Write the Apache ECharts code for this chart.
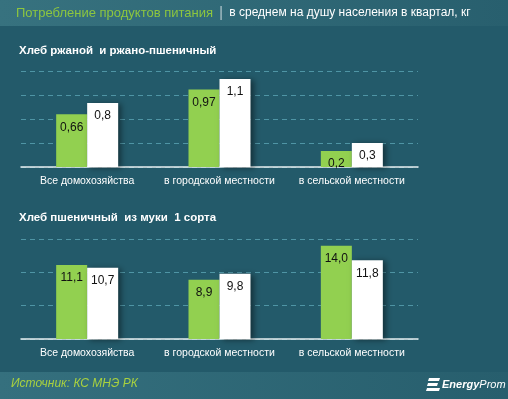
<!DOCTYPE html>
<html>
<head>
<meta charset="utf-8">
<script src="https://cdn.jsdelivr.net/npm/echarts@6/dist/echarts.min.js"></script>
<style>
  html, body { margin: 0; padding: 0; background: #235a6a; }
  #container { width: 508px; height: 399px; }
</style>
</head>
<body>
<div id="container"></div>
<script>
var categories = ['Все домохозяйства', 'в городской местности', 'в сельской местности'];
// Хлеб ржаной и ржано-пшеничный
var ryeGreen = [0.66, 0.97, 0.2];
var ryeWhite = [0.8, 1.1, 0.3];
// Хлеб пшеничный из муки 1 сорта
var wheatGreen = [11.1, 8.9, 14.0];
var wheatWhite = [10.7, 9.8, 11.8];

var font = 'Liberation Sans';
var green = '#92d050';

var dom = document.getElementById('container');
var myChart = echarts.init(dom, null, {renderer: 'canvas'});

function commaTop(p) { return String(p.value).replace('.', ','); }
function commaBottom(p) { return p.value.toFixed(1).replace('.', ','); }

function barSeries(data, color, xi, fmt, shadow) {
    return {
        type: 'bar',
        xAxisIndex: xi,
        yAxisIndex: xi,
        data: data,
        barWidth: 31,
        barGap: '0%',
        itemStyle: {
            color: color,
            shadowColor: shadow ? 'rgba(0,0,0,0.45)' : 'rgba(0,0,0,0)',
            shadowBlur: 6,
            shadowOffsetX: 3,
            shadowOffsetY: 1
        },
        label: {
            show: true,
            position: 'insideTop',
            distance: 7,
            color: '#111',
            fontFamily: font,
            fontSize: 12,
            formatter: fmt
        },
        silent: true
    };
}

function xAxisFor(gi) {
    return {
        type: 'category',
        gridIndex: gi,
        data: categories,
        axisTick: {show: false},
        axisLine: {lineStyle: {color: '#e8eef0', width: 1.5}},
        axisLabel: {color: '#fff', fontFamily: font, fontSize: 10.5, margin: 9, interval: 0}
    };
}

function yAxisFor(gi, max, interval) {
    return {
        type: 'value',
        gridIndex: gi,
        min: 0,
        max: max,
        interval: interval,
        axisLabel: {show: false},
        axisLine: {show: false},
        axisTick: {show: false},
        splitLine: {lineStyle: {color: '#4f95a5', type: [5, 4], width: 1}}
    };
}

var option = {
    backgroundColor: '#235a6a',
    animation: false,
    title: [{
        text: 'Хлеб ржаной  и ржано-пшеничный',
        left: 19, top: 45, padding: 0,
        textStyle: {color: '#fff', fontFamily: font, fontSize: 11.5, fontWeight: 'bold'}
    }, {
        text: 'Хлеб пшеничный  из муки  1 сорта',
        left: 19, top: 212, padding: 0,
        textStyle: {color: '#fff', fontFamily: font, fontSize: 11.5, fontWeight: 'bold'}
    }],
    grid: [
        {left: 21, width: 397, top: 71, height: 96},
        {left: 21, width: 397, top: 239, height: 100}
    ],
    xAxis: [xAxisFor(0), xAxisFor(1)],
    yAxis: [yAxisFor(0, 1.2, 0.3), yAxisFor(1, 15, 5)],
    series: [
        barSeries(ryeGreen, green, 0, commaTop, false),
        barSeries(ryeWhite, '#ffffff', 0, commaTop, true),
        barSeries(wheatGreen, green, 1, commaBottom, false),
        barSeries(wheatWhite, '#ffffff', 1, commaBottom, true)
    ],
    graphic: [
        {
            type: 'rect', left: 0, top: 0, z: -1,
            shape: {width: 508, height: 26},
            style: {fill: new echarts.graphic.LinearGradient(0, 0, 1, 0, [
                {offset: 0, color: '#37727f'}, {offset: 1, color: '#285f6e'}])}
        },
        {
            type: 'text', left: 16, top: 6,
            style: {
                text: '{g|Потребление продуктов питания} {s||} {w|в среднем на душу населения в квартал, кг}',
                rich: {
                    g: {fill: '#8dc63f', fontFamily: font, fontSize: 13},
                    s: {fill: '#b8ccd0', fontFamily: font, fontSize: 14, padding: [0, 3]},
                    w: {fill: '#fff', fontFamily: font, fontSize: 12}
                }
            }
        },
        {
            type: 'rect', left: 0, top: 372, z: -1,
            shape: {width: 508, height: 27},
            style: {fill: new echarts.graphic.LinearGradient(0, 0, 1, 0, [
                {offset: 0, color: '#35707e'}, {offset: 1, color: '#275e6d'}])}
        },
        {
            type: 'text', left: 11, top: 378,
            style: {text: 'Источник: КС МНЭ РК', fill: '#a9d13f', fontFamily: font, fontSize: 12, fontStyle: 'italic'}
        },
        {
            type: 'group', left: 426, top: 378,
            children: [
                {type: 'polygon', shape: {points: [[3, 0], [14, 0], [13, 3], [2, 3]]}, style: {fill: '#fff'}},
                {type: 'polygon', shape: {points: [[2, 5], [12, 5], [11, 8], [1, 8]]}, style: {fill: '#fff'}},
                {type: 'polygon', shape: {points: [[1, 10], [14, 10], [13, 13], [0, 13]]}, style: {fill: '#fff'}}
            ]
        },
        {
            type: 'text', left: 442, top: 379,
            style: {
                text: '{b|Energy}{r|Prom}',
                rich: {
                    b: {fill: '#fff', fontFamily: font, fontSize: 11, fontWeight: 'bold', fontStyle: 'italic'},
                    r: {fill: '#fff', fontFamily: font, fontSize: 11, fontStyle: 'italic'}
                }
            }
        }
    ]
};

myChart.setOption(option);
</script>
</body>
</html>
